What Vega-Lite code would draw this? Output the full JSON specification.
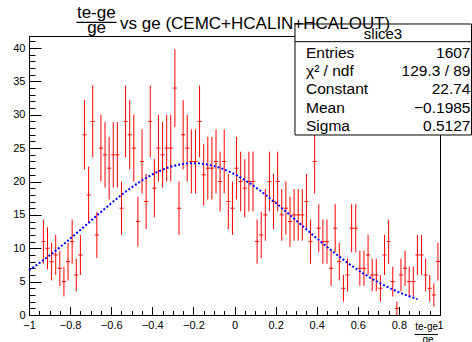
{
  "$schema": "https://vega.github.io/schema/vega-lite/v6.json",
  "width": 411,
  "height": 279,
  "autosize": {"type": "none"},
  "padding": {"left": 29, "right": 32, "top": 36, "bottom": 27},
  "background": "white",
  "config": {
    "view": {"stroke": "#000000", "strokeWidth": 1},
    "font": "Liberation Sans",
    "axis": {"grid": false, "labelFont": "Liberation Sans", "labelColor": "#000000", "tickColor": "#000000", "domainColor": "#000000"}
  },
  "datasets": {
    "one": [{"k": 1}],
    "hist": [
      {"x": -0.93, "n": 11, "e": 3.317}, {"x": -0.91, "n": 10, "e": 3.162}, {"x": -0.89, "n": 8, "e": 2.828},
      {"x": -0.87, "n": 9, "e": 3.0}, {"x": -0.85, "n": 7, "e": 2.646}, {"x": -0.83, "n": 5, "e": 2.236},
      {"x": -0.81, "n": 8, "e": 2.828}, {"x": -0.79, "n": 11, "e": 3.317}, {"x": -0.77, "n": 6, "e": 2.449},
      {"x": -0.75, "n": 9, "e": 3.0}, {"x": -0.73, "n": 27, "e": 5.196}, {"x": -0.71, "n": 18, "e": 4.243},
      {"x": -0.69, "n": 29, "e": 5.385}, {"x": -0.67, "n": 12, "e": 3.464}, {"x": -0.65, "n": 25, "e": 5.0},
      {"x": -0.63, "n": 24, "e": 4.899}, {"x": -0.61, "n": 22, "e": 4.690}, {"x": -0.59, "n": 24, "e": 4.899},
      {"x": -0.57, "n": 24, "e": 4.899}, {"x": -0.55, "n": 16, "e": 4.0}, {"x": -0.53, "n": 29, "e": 5.385},
      {"x": -0.51, "n": 27, "e": 5.196}, {"x": -0.49, "n": 25, "e": 5.0}, {"x": -0.47, "n": 14, "e": 3.742},
      {"x": -0.45, "n": 23, "e": 4.796}, {"x": -0.43, "n": 17, "e": 4.123}, {"x": -0.41, "n": 29, "e": 5.385},
      {"x": -0.39, "n": 19, "e": 4.359}, {"x": -0.37, "n": 25, "e": 5.0}, {"x": -0.35, "n": 24, "e": 4.899},
      {"x": -0.33, "n": 25, "e": 5.0}, {"x": -0.31, "n": 25, "e": 5.0}, {"x": -0.29, "n": 34, "e": 5.831},
      {"x": -0.27, "n": 16, "e": 4.0}, {"x": -0.25, "n": 27, "e": 5.196}, {"x": -0.23, "n": 25, "e": 5.0},
      {"x": -0.21, "n": 23, "e": 4.796}, {"x": -0.19, "n": 23, "e": 4.796}, {"x": -0.17, "n": 29, "e": 5.385},
      {"x": -0.15, "n": 21, "e": 4.583}, {"x": -0.13, "n": 22, "e": 4.690}, {"x": -0.11, "n": 22, "e": 4.690},
      {"x": -0.09, "n": 23, "e": 4.796}, {"x": -0.07, "n": 20, "e": 4.472}, {"x": -0.05, "n": 23, "e": 4.796},
      {"x": -0.03, "n": 17, "e": 4.123}, {"x": -0.01, "n": 16, "e": 4.0}, {"x": 0.01, "n": 22, "e": 4.690},
      {"x": 0.03, "n": 20, "e": 4.472}, {"x": 0.05, "n": 19, "e": 4.359}, {"x": 0.07, "n": 20, "e": 4.472},
      {"x": 0.09, "n": 20, "e": 4.472}, {"x": 0.11, "n": 11, "e": 3.317}, {"x": 0.13, "n": 12, "e": 3.464},
      {"x": 0.15, "n": 15, "e": 3.873}, {"x": 0.17, "n": 20, "e": 4.472}, {"x": 0.19, "n": 17, "e": 4.123},
      {"x": 0.21, "n": 20, "e": 4.472}, {"x": 0.23, "n": 15, "e": 3.873}, {"x": 0.25, "n": 16, "e": 4.0},
      {"x": 0.27, "n": 14, "e": 3.742}, {"x": 0.29, "n": 15, "e": 3.873}, {"x": 0.31, "n": 15, "e": 3.873},
      {"x": 0.33, "n": 15, "e": 3.873}, {"x": 0.35, "n": 17, "e": 4.123}, {"x": 0.37, "n": 11, "e": 3.317},
      {"x": 0.39, "n": 23, "e": 4.796}, {"x": 0.41, "n": 13, "e": 3.606}, {"x": 0.43, "n": 11, "e": 3.317},
      {"x": 0.45, "n": 11, "e": 3.317}, {"x": 0.47, "n": 7, "e": 2.646}, {"x": 0.49, "n": 13, "e": 3.606},
      {"x": 0.51, "n": 8, "e": 2.828}, {"x": 0.53, "n": 4, "e": 2.0}, {"x": 0.55, "n": 6, "e": 2.449},
      {"x": 0.57, "n": 13, "e": 3.606}, {"x": 0.59, "n": 13, "e": 3.606}, {"x": 0.61, "n": 7, "e": 2.646},
      {"x": 0.63, "n": 7, "e": 2.646}, {"x": 0.65, "n": 9, "e": 3.0}, {"x": 0.67, "n": 6, "e": 2.449},
      {"x": 0.69, "n": 6, "e": 2.449}, {"x": 0.71, "n": 4, "e": 2.0}, {"x": 0.73, "n": 9, "e": 3.0},
      {"x": 0.75, "n": 11, "e": 3.317}, {"x": 0.77, "n": 5, "e": 2.236}, {"x": 0.79, "n": 1, "e": 1.0},
      {"x": 0.81, "n": 6, "e": 2.449}, {"x": 0.83, "n": 7, "e": 2.646}, {"x": 0.85, "n": 5, "e": 2.236},
      {"x": 0.87, "n": 5, "e": 2.236}, {"x": 0.89, "n": 9, "e": 3.0}, {"x": 0.91, "n": 9, "e": 3.0},
      {"x": 0.93, "n": 6, "e": 2.449}, {"x": 0.95, "n": 4, "e": 2.0}, {"x": 0.97, "n": 3, "e": 1.732},
      {"x": 0.99, "n": 8, "e": 2.828}
    ],
    "fit": [
      {"x": -1.0, "f": 6.70}, {"x": -0.95, "f": 7.77}, {"x": -0.9, "f": 8.92}, {"x": -0.85, "f": 10.14},
      {"x": -0.8, "f": 11.43}, {"x": -0.75, "f": 12.75}, {"x": -0.7, "f": 14.09}, {"x": -0.65, "f": 15.43},
      {"x": -0.6, "f": 16.73}, {"x": -0.55, "f": 17.98}, {"x": -0.5, "f": 19.13}, {"x": -0.45, "f": 20.16},
      {"x": -0.4, "f": 21.05}, {"x": -0.35, "f": 21.77}, {"x": -0.3, "f": 22.30}, {"x": -0.25, "f": 22.63},
      {"x": -0.2, "f": 22.74}, {"x": -0.15, "f": 22.64}, {"x": -0.1, "f": 22.32}, {"x": -0.05, "f": 21.81},
      {"x": 0.0, "f": 21.10}, {"x": 0.05, "f": 20.22}, {"x": 0.1, "f": 19.20}, {"x": 0.15, "f": 18.05},
      {"x": 0.2, "f": 16.81}, {"x": 0.25, "f": 15.51}, {"x": 0.3, "f": 14.17}, {"x": 0.35, "f": 12.83},
      {"x": 0.4, "f": 11.50}, {"x": 0.45, "f": 10.22}, {"x": 0.5, "f": 8.99}, {"x": 0.55, "f": 7.83},
      {"x": 0.6, "f": 6.76}, {"x": 0.65, "f": 5.78}, {"x": 0.7, "f": 4.90}, {"x": 0.75, "f": 4.11},
      {"x": 0.8, "f": 3.41}, {"x": 0.85, "f": 2.81}, {"x": 0.89, "f": 2.38}
    ]
  },
  "resolve": {"axis": {"x": "independent", "y": "independent"}},
  "layer": [
    {
      "data": {"name": "hist"},
      "mark": {"type": "errorbar", "color": "#ff0000", "thickness": 1},
      "encoding": {
        "x": {"field": "x", "type": "quantitative", "scale": {"domain": [-1, 1], "nice": false, "zero": false},
          "axis": {"orient": "bottom", "title": null, "values": [-1, -0.8, -0.6, -0.4, -0.2, 0, 0.2, 0.4, 0.6, 0.8, 1], "format": "~g", "ticks": false, "domain": true, "labelFontSize": 11, "labelPadding": 4, "labelFlush": false}},
        "y": {"field": "n", "type": "quantitative", "title": null, "scale": {"domain": [0, 41.8], "nice": false, "zero": false},
          "axis": {"orient": "left", "title": null, "values": [0, 5, 10, 15, 20, 25, 30, 35, 40], "ticks": false, "domain": true, "labelFontSize": 11, "labelPadding": 4}},
        "yError": {"field": "e"}
      }
    },
    {
      "data": {"name": "hist"},
      "mark": {"type": "tick", "orient": "horizontal", "color": "#ff0000", "size": 4.1, "thickness": 1, "opacity": 1},
      "encoding": {
        "x": {"field": "x", "type": "quantitative",
          "axis": {"orient": "bottom", "title": null, "values": [-1, -0.8, -0.6, -0.4, -0.2, 0, 0.2, 0.4, 0.6, 0.8, 1], "labels": false, "domain": false, "tickSize": -8.5}},
        "y": {"field": "n", "type": "quantitative",
          "axis": {"orient": "left", "title": null, "values": [0, 5, 10, 15, 20, 25, 30, 35, 40], "labels": false, "domain": false, "tickSize": -12}}
      }
    },
    {
      "data": {"name": "fit"},
      "mark": {"type": "line", "color": "#0000ff", "strokeWidth": 2, "strokeDash": [2, 2], "interpolate": "monotone"},
      "encoding": {
        "x": {"field": "x", "type": "quantitative",
          "axis": {"orient": "bottom", "title": null, "values": [-1, -0.95, -0.9, -0.85, -0.8, -0.75, -0.7, -0.65, -0.6, -0.55, -0.5, -0.45, -0.4, -0.35, -0.3, -0.25, -0.2, -0.15, -0.1, -0.05, 0, 0.05, 0.1, 0.15, 0.2, 0.25, 0.3, 0.35, 0.4, 0.45, 0.5, 0.55, 0.6, 0.65, 0.7, 0.75, 0.8, 0.85, 0.9, 0.95, 1], "labels": false, "domain": false, "tickSize": -4.5}},
        "y": {"field": "f", "type": "quantitative",
          "axis": {"orient": "left", "title": null, "values": [0, 1, 2, 3, 4, 5, 6, 7, 8, 9, 10, 11, 12, 13, 14, 15, 16, 17, 18, 19, 20, 21, 22, 23, 24, 25, 26, 27, 28, 29, 30, 31, 32, 33, 34, 35, 36, 37, 38, 39, 40, 41], "labels": false, "domain": false, "tickSize": -6}}
      }
    },
    {
      "data": {"name": "one"},
      "mark": {"type": "rect", "fill": "#ffffff", "stroke": "#000000", "strokeWidth": 1},
      "encoding": {
        "x": {"datum": 0.2944, "type": "quantitative", "axis": null},
        "x2": {"datum": 1.1533},
        "y": {"datum": 26.97, "type": "quantitative", "axis": null},
        "y2": {"datum": 43.6}
      }
    },
    {
      "data": {"name": "one"},
      "mark": {"type": "rule", "stroke": "#000000", "strokeWidth": 1},
      "encoding": {
        "x": {"datum": 0.2944, "type": "quantitative", "axis": null},
        "x2": {"datum": 1.1533},
        "y": {"datum": 40.95, "type": "quantitative", "axis": null}
      }
    },
    {
      "data": {"name": "one"},
      "mark": {"type": "text", "text": "slice3", "align": "center", "baseline": "alphabetic", "fontSize": 15, "font": "Liberation Sans", "color": "#000000"},
      "encoding": {
        "x": {"datum": 0.7226, "type": "quantitative", "axis": null},
        "y": {"datum": 41.35, "type": "quantitative", "axis": null}
      }
    },
    {
      "data": {"name": "one"},
      "mark": {"type": "text", "text": ["Entries", "χ² / ndf", "Constant", "Mean", "Sigma"], "align": "left", "baseline": "alphabetic", "fontSize": 15.5, "lineHeight": 18.2, "font": "Liberation Sans", "color": "#000000"},
      "encoding": {
        "x": {"datum": 0.348, "type": "quantitative", "axis": null},
        "y": {"datum": 38.5, "type": "quantitative", "axis": null}
      }
    },
    {
      "data": {"name": "one"},
      "mark": {"type": "text", "text": ["1607", "129.3 / 89", "22.74", "−0.1985", "0.5127"], "align": "right", "baseline": "alphabetic", "fontSize": 15.5, "lineHeight": 18.2, "font": "Liberation Sans", "color": "#000000"},
      "encoding": {
        "x": {"datum": 1.1484, "type": "quantitative", "axis": null},
        "y": {"datum": 38.5, "type": "quantitative", "axis": null}
      }
    },
    {
      "data": {"name": "one"},
      "mark": {"type": "text", "text": "te-ge", "align": "center", "baseline": "alphabetic", "fontSize": 17, "font": "Liberation Sans", "color": "#000000"},
      "encoding": {
        "x": {"datum": -0.6725, "type": "quantitative", "axis": null},
        "y": {"datum": 44.49, "type": "quantitative", "axis": null}
      }
    },
    {
      "data": {"name": "one"},
      "mark": {"type": "rule", "stroke": "#000000", "strokeWidth": 1.2},
      "encoding": {
        "x": {"datum": -0.769, "type": "quantitative", "axis": null},
        "x2": {"datum": -0.574},
        "y": {"datum": 43.85, "type": "quantitative", "axis": null}
      }
    },
    {
      "data": {"name": "one"},
      "mark": {"type": "text", "text": "ge", "align": "center", "baseline": "alphabetic", "fontSize": 17, "font": "Liberation Sans", "color": "#000000"},
      "encoding": {
        "x": {"datum": -0.671, "type": "quantitative", "axis": null},
        "y": {"datum": 42.25, "type": "quantitative", "axis": null}
      }
    },
    {
      "data": {"name": "one"},
      "mark": {"type": "text", "text": "vs ge (CEMC+HCALIN+HCALOUT)", "align": "left", "baseline": "alphabetic", "fontSize": 17, "font": "Liberation Sans", "color": "#000000"},
      "encoding": {
        "x": {"datum": -0.557, "type": "quantitative", "axis": null},
        "y": {"datum": 42.8, "type": "quantitative", "axis": null}
      }
    },
    {
      "data": {"name": "one"},
      "mark": {"type": "text", "text": "te-ge", "align": "right", "baseline": "alphabetic", "fontSize": 10, "font": "Liberation Sans", "color": "#000000"},
      "encoding": {
        "x": {"datum": 0.9903, "type": "quantitative", "axis": null},
        "y": {"datum": -2.25, "type": "quantitative", "axis": null}
      }
    },
    {
      "data": {"name": "one"},
      "mark": {"type": "rule", "stroke": "#000000", "strokeWidth": 1},
      "encoding": {
        "x": {"datum": 0.876, "type": "quantitative", "axis": null},
        "x2": {"datum": 0.990},
        "y": {"datum": -2.92, "type": "quantitative", "axis": null}
      }
    },
    {
      "data": {"name": "one"},
      "mark": {"type": "text", "text": "ge", "align": "center", "baseline": "alphabetic", "fontSize": 10, "font": "Liberation Sans", "color": "#000000"},
      "encoding": {
        "x": {"datum": 0.9416, "type": "quantitative", "axis": null},
        "y": {"datum": -4.19, "type": "quantitative", "axis": null}
      }
    }
  ]
}
